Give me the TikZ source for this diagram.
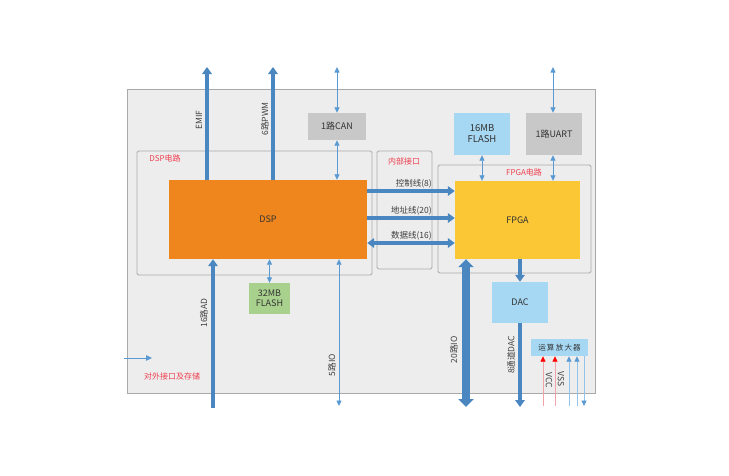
\documentclass[tikz,border=0pt]{standalone}
\usepackage{fontspec}
\setmainfont{Noto Sans CJK SC}
\usepackage{xcolor}
\usetikzlibrary{positioning}
\usetikzlibrary{arrows.meta}
\usetikzlibrary{calc}

\definecolor{boardgray}{HTML}{EDEDED}
\definecolor{edgegray}{HTML}{A9A9A9}
\definecolor{dsporange}{HTML}{EF861D}
\definecolor{fpgayellow}{HTML}{FBC735}
\definecolor{chipblue}{HTML}{A6D8F3}
\definecolor{chipgray}{HTML}{C8C8C8}
\definecolor{chipgreen}{HTML}{A9D18E}
\definecolor{busblue}{HTML}{4A86BF}
\definecolor{linkblue}{HTML}{5A9AD2}
\definecolor{paleblue}{HTML}{92C3EA}
\definecolor{notered}{HTML}{EE4050}
\definecolor{palered}{HTML}{F2A3AA}

\tikzset{
  chip/.style={inner sep=0pt, align=center, font=\fontsize{9}{10.5}\selectfont, text=black!80},
  frame/.style={draw=edgegray, line width=0.8pt, rounded corners=1.5pt},
  note/.style={font=\fontsize{8}{9}\selectfont, text=notered},
  tag/.style={font=\fontsize{8.5}{9.5}\selectfont, text=black!75, inner sep=0pt},
  bus/.style={busblue, line width=3.8pt, -{Triangle[length=7pt,width=9.5pt]}},
  wbus/.style={busblue, line width=7.5pt, {Triangle[length=8pt,width=15pt]}-{Triangle[length=8pt,width=15pt]}},
  link/.style={linkblue, line width=0.8pt, {Triangle[length=5.5pt,width=5pt]}-{Triangle[length=5.5pt,width=5pt]}},
  supply/.style={line width=0.8pt, -{Triangle[length=5.5pt,width=5pt,color=#1]}},
}

\begin{document}
\begin{tikzpicture}[x=1pt, y=-1pt]
\useasboundingbox (0,0) rectangle (729,475);

% board and circuit frames
\node[frame, fill=boardgray, rounded corners=0pt, minimum width=468, minimum height=304] (board) at (361,241) {};
\node[frame, minimum width=235, minimum height=124] (dspzone) at (254.5,213) {};
\node[frame, minimum width=55, minimum height=118] (innerzone) at (404.5,210) {};
\node[frame, minimum width=153, minimum height=108] (fpgazone) at (514.5,219) {};

\node[note] (dspname) at (165,158) {DSP电路};
\node[note] (innername) at (404,161) {内部接口};
\node[note] (fpganame) at (524,172) {FPGA电路};

% chips
\node[chip, fill=dsporange, minimum width=198, minimum height=79] (dsp) at (268,219.5) {DSP};
\node[chip, fill=fpgayellow, minimum width=125, minimum height=78] (fpga) at (517.5,220) {FPGA};
\node[chip, fill=chipgray, minimum width=58, minimum height=27] (can) at (337,126.5) {1路CAN};
\node[chip, fill=chipblue, minimum width=56, minimum height=42, font=\fontsize{9.5}{11}\selectfont] (flashb) at (482,134) {16MB\\FLASH};
\node[chip, fill=chipgray, minimum width=56, minimum height=42] (uart) at (554,134) {1路UART};
\node[chip, fill=chipgreen, minimum width=41, minimum height=31] (flasha) at (269.5,298.5) {32MB\\FLASH};
\node[chip, fill=chipblue, minimum width=56, minimum height=41] (dac) at (520,302.5) {DAC};
\node[chip, fill=chipblue, minimum width=57, minimum height=17, font=\fontsize{7.5}{8}\selectfont] (opamp) at (559.5,347.5) {运\,算\,放\,大\,器};

% free ends
\coordinate (emif) at (207,67);
\coordinate (pwm) at (273,67);
\coordinate (canout) at (337,67);
\coordinate (uartout) at (553,67);
\coordinate (adin) at (213,408);
\coordinate (ioa) at (339,406);
\coordinate (iob) at (466,407);
\coordinate (dacout) at (520,407);

% DSP side
\draw[bus] (emif |- dsp.north) -- (emif);
\draw[bus] (pwm |- dsp.north) -- (pwm);
\draw[link] (canout) -- (can.north);
\draw[link] (can.south) -- (can.south |- dsp.north);
\draw[bus] (adin) -- (adin |- dsp.south);
\draw[link] (dsp.south -| flasha.north) -- (flasha.north);
\draw[link] (ioa |- dsp.south) -- (ioa);

\node[tag, rotate=90] (emiftag) at (199,120) {EMIF};
\node[tag, rotate=90] (pwmtag) at (265,119) {6路PWM};
\node[tag, rotate=90] (adtag) at (204,313) {16路AD};
\node[tag, rotate=90] (ioatag) at (332,365) {5路IO};

% internal bus
\draw[bus] (dsp.east |- 0,191) -- (fpga.west |- 0,191);
\draw[bus] (dsp.east |- 0,218) -- (fpga.west |- 0,218);
\draw[bus, {Triangle[length=7pt,width=9.5pt]}-{Triangle[length=7pt,width=9.5pt]}] (dsp.east |- 0,243) -- (fpga.west |- 0,243);
\node[tag, anchor=east] (ctrltag) at (432,184) {控制线(8)};
\node[tag, anchor=east] (addrtag) at (432,211) {地址线(20)};
\node[tag, anchor=east] (datatag) at (432,236) {数据线(16)};

% FPGA side
\draw[link] (flashb.south) -- (flashb.south |- fpga.north);
\draw[link] (uartout) -- (uartout |- uart.north);
\draw[link] (uartout |- uart.south) -- (uartout |- fpga.north);
\draw[wbus] (iob |- fpga.south) -- (iob);
\draw[bus] (fpga.south -| dac.north) -- (dac.north);
\draw[bus] (dac.south) -- (dacout);

\node[tag, rotate=90] (iobtag) at (454,350) {20路IO};
\node[tag, rotate=90] (dactag) at (511,355) {8通道DAC};

% op-amp supply and signals
\foreach \px in {543,555}
  \draw[palered, supply=red] (\px,406) -- (\px,406 |- opamp.south);
\foreach \px in {569,577}
  \draw[paleblue, supply=linkblue] (\px,406) -- (\px,406 |- opamp.south);
\draw[paleblue, supply=linkblue] (584,406 |- opamp.south) -- (584,406);
\node[tag, rotate=-90] (vcctag) at (549,380) {VCC};
\node[tag, rotate=-90] (vsstag) at (561,379) {VSS};

% legend
\coordinate (keystart) at (124,358);
\coordinate (keyend) at (152,358);
\draw[linkblue, line width=0.8pt, -{Triangle[length=6pt,width=5.5pt]}] (keystart) -- (keyend);
\node[note] (keytext) at (172,376) {对外接口及存储};
\end{tikzpicture}
\end{document}
